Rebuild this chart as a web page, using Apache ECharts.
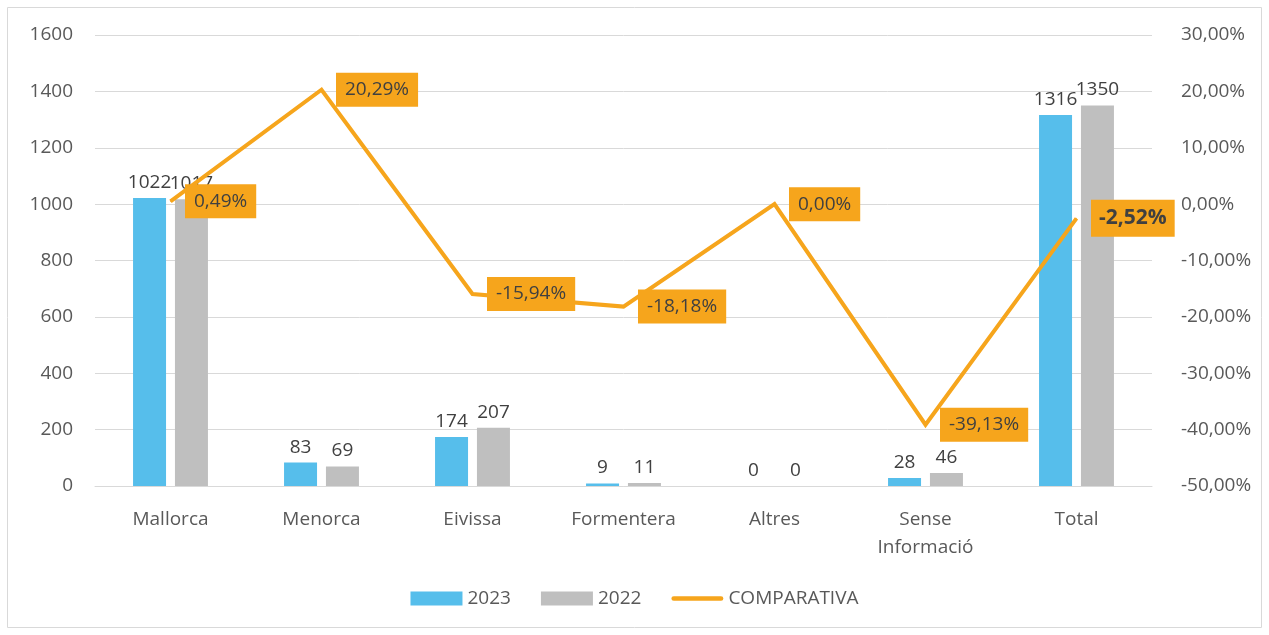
<!DOCTYPE html>
<html><head><meta charset="utf-8">
<script src="https://cdn.jsdelivr.net/npm/echarts@6/dist/echarts.min.js"></script>
<style>html,body{margin:0;padding:0;background:#fff}#c{width:1269px;height:635px}</style>
</head><body><div id="c"></div>
<script>
const categories = ['Mallorca','Menorca','Eivissa','Formentera','Altres','Sense\nInformació','Total'];
const values2023 = [1022, 83, 174, 9, 0, 28, 1316];
const values2022 = [1017, 69, 207, 11, 0, 46, 1350];
const comparativa = [0.49, 20.29, -15.94, -18.18, 0.00, -39.13, -2.52];
const leftTicks = {min: 0, max: 1600, interval: 200};
const rightTicks = {min: -50, max: 30, interval: 10};

const FONT = '"Open Sans", "Liberation Sans", sans-serif';
const fmtPct = v => v.toFixed(2).replace('.', ',') + '%';
const ORANGE = '#F6A51C';
const FS = 19;

const chart = echarts.init(document.getElementById('c'), null, {renderer: 'canvas'});
const lineData = comparativa.map((v, i) => {
  const d = {value: v};
  if (i === comparativa.length - 1) {
    d.label = {fontWeight: 'bold', fontSize: 21, padding: [9, 8, 7, 8]};
  }
  return d;
});
chart.setOption({
  animation: false,
  textStyle: {fontFamily: FONT},
  graphic: [{type: 'rect', shape: {x: 7.5, y: 7.5, width: 1254, height: 620}, style: {fill: 'none', stroke: '#d9d9d9', lineWidth: 1}, silent: true}],
  grid: {left: 95, right: 117, top: 35, bottom: 149},
  legend: {
    bottom: 22, left: 'center', itemWidth: 52, itemHeight: 14, itemGap: 30,
    textStyle: {fontFamily: FONT, fontSize: FS, color: '#595959'},
    data: [
      {name: '2023', icon: 'rect'},
      {name: '2022', icon: 'rect'},
      {name: 'COMPARATIVA', icon: 'path://M3,5 L53,5 A2.5,2.5 0 0 1 53,10 L3,10 A2.5,2.5 0 0 1 3,5 Z', itemStyle: {color: ORANGE}}
    ]
  },
  xAxis: {
    type: 'category', data: categories,
    axisLine: {lineStyle: {color: '#d9d9d9', width: 1}},
    axisTick: {show: false},
    axisLabel: {fontFamily: FONT, fontSize: FS, color: '#595959', margin: 20, lineHeight: 28}
  },
  yAxis: [{
    type: 'value', min: leftTicks.min, max: leftTicks.max, interval: leftTicks.interval,
    axisLine: {show: false}, axisTick: {show: false},
    axisLabel: {fontFamily: FONT, fontSize: FS, color: '#595959', margin: 22, formatter: v => String(v)},
    splitLine: {lineStyle: {color: '#d9d9d9', width: 1}}
  }, {
    type: 'value', min: rightTicks.min, max: rightTicks.max, interval: rightTicks.interval,
    axisLine: {show: false}, axisTick: {show: false},
    axisLabel: {fontFamily: FONT, fontSize: FS, color: '#595959', margin: 29, formatter: fmtPct},
    splitLine: {show: false}
  }],
  series: [{
    name: '2023', type: 'bar', data: values2023, barWidth: 33, barGap: '27%',
    itemStyle: {color: '#56BEEB'},
    label: {show: true, position: 'top', distance: 6, fontFamily: FONT, fontSize: FS, color: '#404040'}
  }, {
    name: '2022', type: 'bar', data: values2022, barWidth: 33,
    itemStyle: {color: '#BFBFBF'},
    label: {show: true, position: 'top', distance: 6, fontFamily: FONT, fontSize: FS, color: '#404040'}
  }, {
    name: 'COMPARATIVA', type: 'line', yAxisIndex: 1, data: lineData,
    symbol: 'circle', symbolSize: 1, z: 5,
    lineStyle: {color: ORANGE, width: 4, join: 'miter'},
    itemStyle: {color: ORANGE},
    label: {show: true, position: 'right', distance: 14, formatter: p => fmtPct(p.value),
      backgroundColor: ORANGE, color: '#404040', fontFamily: FONT, fontSize: FS, padding: [8, 9, 7, 9]}
  }]
});
</script></body></html>
